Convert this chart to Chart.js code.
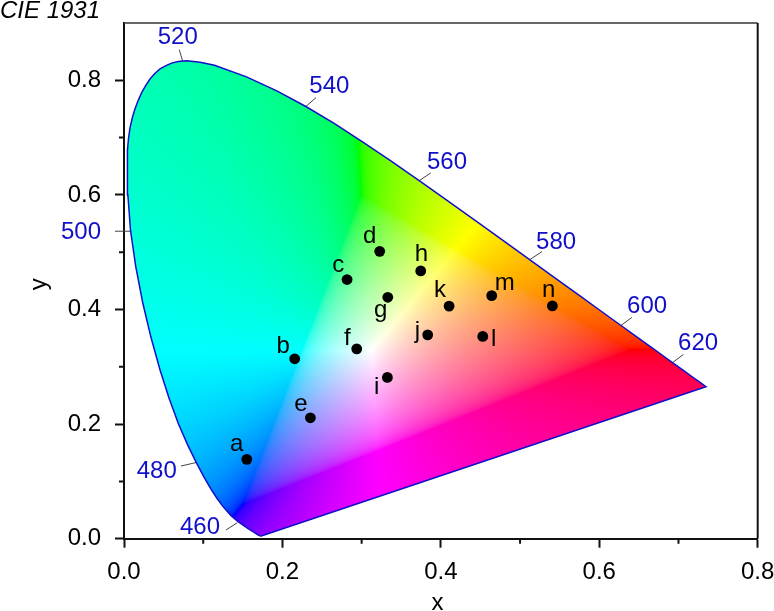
<!DOCTYPE html>
<html>
<head>
<meta charset="utf-8">
<title>CIE 1931</title>
<script src="https://cdn.jsdelivr.net/npm/chart.js@4"></script>
<style>
    html, body { margin: 0; padding: 0; background: #fff; }
    canvas { display: block; }
</style>
</head>
<body>
<canvas id="cieChart" width="774" height="611"></canvas>
<script>
// spectral locus, from the violet end round to the red end and back along the purple line
const locusX = [0.1741, 0.1733, 0.1714, 0.1689, 0.1644, 0.1566, 0.1440, 0.1355, 0.1302, 0.1241, 0.1173, 0.1096, 0.1010, 0.0913, 0.0803, 0.0687, 0.0570, 0.0454, 0.03395, 0.0235, 0.01475, 0.0082, 0.0049, 0.0039, 0.0048, 0.0058, 0.0077, 0.0106, 0.0139, 0.018, 0.0228, 0.0279, 0.0333, 0.0389, 0.0455, 0.053, 0.0601, 0.067, 0.0743, 0.0795, 0.0960, 0.1142, 0.1547, 0.1929, 0.2296, 0.2658, 0.3016, 0.3373, 0.3731, 0.4087, 0.4441, 0.4788, 0.5125, 0.5448, 0.5752, 0.6029, 0.6270, 0.6482, 0.6658, 0.6801, 0.6915, 0.7079, 0.7190, 0.7260, 0.7347, 0.1741];
const locusY = [0.0050, 0.0048, 0.0051, 0.0069, 0.0109, 0.0177, 0.0297, 0.0399, 0.0477, 0.0578, 0.0706, 0.0868, 0.1073, 0.1327, 0.1637, 0.2007, 0.2447, 0.2950, 0.3519, 0.4127, 0.4756, 0.5384, 0.6000, 0.6548, 0.678, 0.700, 0.718, 0.735, 0.7502, 0.765, 0.780, 0.792, 0.803, 0.812, 0.820, 0.8255, 0.830, 0.8325, 0.8338, 0.8340, 0.8313, 0.8262, 0.8059, 0.7816, 0.7543, 0.7243, 0.6923, 0.6589, 0.6245, 0.5896, 0.5547, 0.5202, 0.4866, 0.4544, 0.4242, 0.3965, 0.3725, 0.3514, 0.3340, 0.3197, 0.3083, 0.2920, 0.2809, 0.2740, 0.2653, 0.0050];

// measured samples
const sampleNames = ['a', 'b', 'c', 'd', 'e', 'f', 'g', 'h', 'i', 'j', 'k', 'l', 'm', 'n'];
const sampleX = [0.155, 0.2155, 0.2816, 0.3228, 0.2353, 0.2938, 0.333, 0.3746, 0.3325, 0.3834, 0.4104, 0.4529, 0.4642, 0.5408];
const sampleY = [0.1385, 0.314, 0.4523, 0.5015, 0.211, 0.3314, 0.4213, 0.4674, 0.2815, 0.3558, 0.4059, 0.353, 0.4241, 0.4063];
const sampleNameX = [0.1423, 0.2011, 0.2706, 0.3102, 0.2235, 0.2819, 0.3241, 0.3754, 0.3191, 0.3703, 0.399, 0.4668, 0.4807, 0.5362];
const sampleNameY = [0.1529, 0.3239, 0.4656, 0.5152, 0.2232, 0.3378, 0.3866, 0.4843, 0.2524, 0.35, 0.422, 0.3366, 0.4349, 0.421];

// wavelength marks on the locus
const waveNames = ['520', '540', '560', '580', '600', '620', '500', '480', '460'];
const waveX = [0.0678, 0.2592, 0.4078, 0.5455, 0.6604, 0.7247, -0.0543, 0.0413, 0.0960];
const waveY = [0.875, 0.7895, 0.6575, 0.518, 0.4046, 0.3408, 0.5344, 0.1168, 0.0199];
const markFromX = [0.0741, 0.2298, 0.3729, 0.5126, 0.6275, 0.6928, 0.0076, 0.0918, 0.1431];
const markFromY = [0.8331, 0.7545, 0.625, 0.4873, 0.3722, 0.3076, 0.5366, 0.1332, 0.0279];
const markToX = [0.0698, 0.2424, 0.3872, 0.5278, 0.6411, 0.7062, -0.0114, 0.072, 0.1288];
const markToY = [0.8535, 0.7698, 0.6383, 0.5012, 0.3861, 0.3216, 0.5366, 0.1268, 0.0152];

const minorX = [0.1, 0.3, 0.5, 0.7];
const minorY = [0.1, 0.3, 0.5, 0.7];

const BLUE = '#1010c8';
const FONT = '"Liberation Sans", Arial, sans-serif';

function gammaEncode(c) {
    return c <= 0.0031308 ? 12.92 * c : 1.055 * Math.pow(c, 1 / 2.4) - 0.055;
}

// xy to sRGB, out of gamut colours get white added until nothing is negative
function xyToRgb(x, y) {
    const z = 1 - x - y;
    let r = 3.2406 * x - 1.5372 * y - 0.4986 * z;
    let g = -0.9689 * x + 1.8758 * y + 0.0415 * z;
    let b = 0.0557 * x - 0.2040 * y + 1.0570 * z;
    const w = Math.max(0, -Math.min(r, g, b));
    r += w;
    g += w;
    b += w;
    const m = Math.max(r, g, b) || 1;
    return [r, g, b].map(c => Math.round(255 * gammaEncode(c / m)));
}

const gamutFill = {
    id: 'gamutFill',
    beforeDatasetsDraw(chart) {
        const { ctx, chartArea: area, scales: { x: sx, y: sy } } = chart;
        const w = Math.ceil(area.width), h = Math.ceil(area.height);
        const off = document.createElement('canvas');
        off.width = w;
        off.height = h;
        const offCtx = off.getContext('2d');
        const img = offCtx.createImageData(w, h);
        for (let j = 0; j < h; j++) {
            const yv = sy.getValueForPixel(area.top + j + 0.5);
            for (let i = 0; i < w; i++) {
                const xv = sx.getValueForPixel(area.left + i + 0.5);
                const rgb = xyToRgb(xv, yv);
                const k = (j * w + i) * 4;
                img.data[k] = rgb[0];
                img.data[k + 1] = rgb[1];
                img.data[k + 2] = rgb[2];
                img.data[k + 3] = 255;
            }
        }
        offCtx.putImageData(img, 0, 0);
        ctx.save();
        ctx.beginPath();
        locusX.forEach((v, i) => {
            ctx.lineTo(sx.getPixelForValue(v), sy.getPixelForValue(locusY[i]));
        });
        ctx.closePath();
        ctx.clip();
        ctx.drawImage(off, area.left, area.top);
        ctx.restore();
    },
    afterDatasetsDraw(chart) {
        const { ctx, chartArea: area, scales: { x: sx, y: sy } } = chart;
        ctx.save();
        // frame, left and bottom come from the axis borders
        ctx.strokeStyle = '#333';
        ctx.lineWidth = 1.5;
        ctx.beginPath();
        ctx.moveTo(area.left, area.top);
        ctx.lineTo(area.right, area.top);
        ctx.stroke();
        ctx.strokeStyle = '#111';
        ctx.lineWidth = 2;
        ctx.beginPath();
        ctx.moveTo(area.right, area.top);
        ctx.lineTo(area.right, area.bottom);
        ctx.stroke();
        // minor ticks
        ctx.beginPath();
        minorX.forEach(v => {
            const p = sx.getPixelForValue(v);
            ctx.moveTo(p, area.bottom);
            ctx.lineTo(p, area.bottom + 5);
        });
        minorY.forEach(v => {
            const p = sy.getPixelForValue(v);
            ctx.moveTo(area.left, p);
            ctx.lineTo(area.left - 5, p);
        });
        ctx.stroke();
        // text
        ctx.font = '24px ' + FONT;
        ctx.textAlign = 'center';
        ctx.textBaseline = 'middle';
        ctx.fillStyle = BLUE;
        waveNames.forEach((name, i) => {
            ctx.fillText(name, sx.getPixelForValue(waveX[i]), sy.getPixelForValue(waveY[i]));
        });
        ctx.textBaseline = 'alphabetic';
        ctx.fillStyle = '#000';
        sampleNames.forEach((name, i) => {
            ctx.fillText(name, sx.getPixelForValue(sampleNameX[i]), sy.getPixelForValue(sampleNameY[i]));
        });
        ctx.restore();
    }
};

const markDatasets = markFromX.map((v, i) => ({
    type: 'line',
    data: [{ x: v, y: markFromY[i] }, { x: markToX[i], y: markToY[i] }],
    borderColor: '#444',
    borderWidth: 1,
    pointRadius: 0,
    clip: false
}));

new Chart(document.getElementById('cieChart'), {
    type: 'scatter',
    data: {
        datasets: [{
            label: 'samples',
            data: sampleX.map((v, i) => ({ x: v, y: sampleY[i] })),
            backgroundColor: '#000',
            borderWidth: 0,
            pointRadius: 5.4
        }, {
            type: 'line',
            label: 'locus',
            data: locusX.map((v, i) => ({ x: v, y: locusY[i] })),
            borderColor: BLUE,
            borderWidth: 1.5,
            pointRadius: 0,
            tension: 0,
            fill: false
        }, ...markDatasets]
    },
    options: {
        responsive: false,
        animation: false,
        events: [],
        layout: { padding: { left: 0, right: 16.3, top: 0, bottom: 0 } },
        plugins: {
            legend: { display: false },
            tooltip: { enabled: false },
            title: {
                display: true,
                text: 'CIE 1931',
                align: 'start',
                color: '#000',
                padding: 0,
                font: { family: FONT, size: 24, style: 'italic', weight: 'normal', lineHeight: 23 / 24 }
            }
        },
        scales: {
            x: {
                type: 'linear',
                min: 0,
                max: 0.8,
                grid: { drawOnChartArea: false, tickLength: 9, tickWidth: 2, tickColor: '#111' },
                border: { color: '#111', width: 2 },
                ticks: {
                    stepSize: 0.2,
                    includeBounds: false,
                    maxRotation: 0,
                    padding: 10,
                    color: '#000',
                    font: { family: FONT, size: 24 },
                    callback: v => v.toFixed(1)
                },
                title: { display: true, text: 'x ', color: '#000', padding: 0, font: { family: FONT, size: 24, lineHeight: 0.65 } },
                afterFit(scale) {
                    scale.height = 72.3;
                    scale.paddingLeft = 0;
                    scale.paddingRight = 0;
                }
            },
            y: {
                type: 'linear',
                min: 0,
                max: 0.9,
                grid: { drawOnChartArea: false, tickLength: 9, tickWidth: 2, tickColor: '#111' },
                border: { color: '#111', width: 2 },
                ticks: {
                    stepSize: 0.2,
                    includeBounds: false,
                    padding: 14,
                    color: '#000',
                    font: { family: FONT, size: 24 },
                    callback: v => v.toFixed(1)
                },
                title: { display: true, text: 'y ', color: '#000', padding: { top: 25, bottom: 0 }, font: { family: FONT, size: 24 } },
                afterFit(scale) {
                    scale.width = 124;
                    scale.paddingTop = 0;
                    scale.paddingBottom = 0;
                }
            }
        }
    },
    plugins: [gamutFill]
});
</script>
</body>
</html>
